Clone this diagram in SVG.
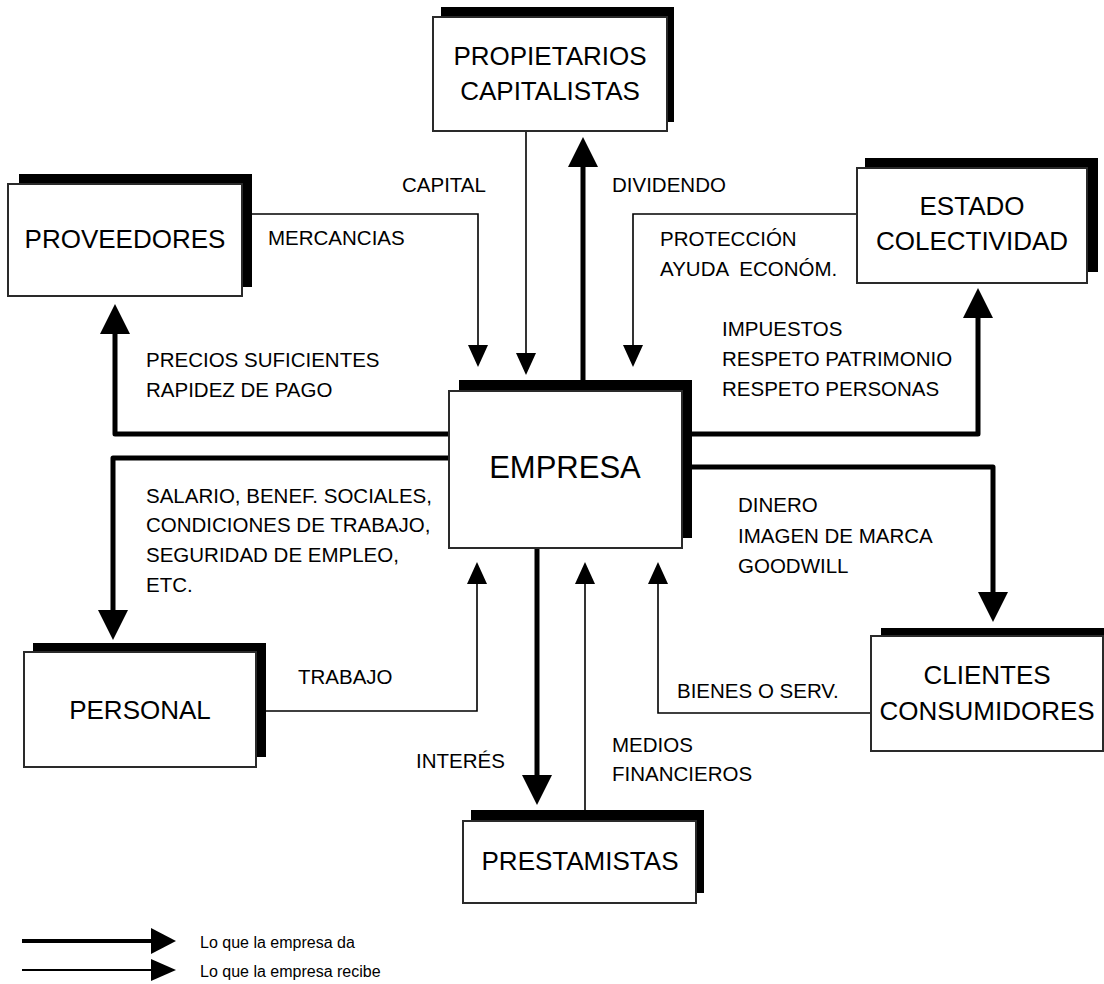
<svg xmlns="http://www.w3.org/2000/svg" width="1104" height="984" viewBox="0 0 1104 984">
  <style>
    .shadow { fill: #000; }
    .box { fill: #fff; stroke: #2a2a2a; stroke-width: 2; }
    .node-text { font-family: "Liberation Sans", Arial, sans-serif; font-size: 26px; fill: #000; text-anchor: middle; }
    .main-text { font-size: 31px; }
    .label { font-family: "Liberation Sans", Arial, sans-serif; font-size: 20.5px; fill: #000; }
    .legend { font-family: "Liberation Sans", Arial, sans-serif; font-size: 16px; fill: #000; }
    .give { fill: none; stroke: #000; stroke-width: 5; stroke-linejoin: round; marker-end: url(#head-give); }
    .get { fill: none; stroke: #000; stroke-width: 1.6; marker-end: url(#head-get); }
  </style>
  <defs>
    <marker id="head-give" markerUnits="userSpaceOnUse" viewBox="0 0 30 30" markerWidth="30" markerHeight="30" refX="0" refY="15" orient="auto">
      <path d="M0,0 L30,15 L0,30 Z" fill="#000"/>
    </marker>
    <marker id="head-get" markerUnits="userSpaceOnUse" viewBox="0 0 22 20" markerWidth="22" markerHeight="20" refX="0" refY="10" orient="auto">
      <path d="M0,0 L22,10 L0,20 Z" fill="#000"/>
    </marker>
  </defs>

  <rect width="1104" height="984" fill="#fff"/>

  <!-- connectors: thick = what the company gives, thin = what it receives -->
  <g id="connectors">
    <!-- Proveedores -->
    <path class="get" d="M252,214 H478 V345"/>
    <path class="give" d="M452,434 H115 V334"/>
    <!-- Propietarios -->
    <path class="get" d="M526,131 V353"/>
    <path class="give" d="M583,380 V167"/>
    <!-- Estado -->
    <path class="get" d="M857,214 H633 V345"/>
    <path class="give" d="M690,434 H978 V318"/>
    <!-- Personal -->
    <path class="give" d="M452,458 H113 V610"/>
    <path class="get" d="M266,711 H477 V584"/>
    <!-- Clientes -->
    <path class="give" d="M690,467 H993 V592"/>
    <path class="get" d="M871,713 H658 V584"/>
    <!-- Prestamistas -->
    <path class="give" d="M537,545 V775"/>
    <path class="get" d="M585,812 V584"/>
  </g>

  <g id="propietarios">
    <rect class="shadow" x="441" y="7" width="233" height="115"/>
    <rect class="box" x="433" y="17" width="234" height="114"/>
    <text class="node-text" x="550" y="65">PROPIETARIOS</text>
    <text class="node-text" x="550" y="100">CAPITALISTAS</text>
  </g>

  <g id="proveedores">
    <rect class="shadow" x="19" y="174" width="233" height="113"/>
    <rect class="box" x="8" y="184" width="234" height="112"/>
    <text class="node-text" x="125" y="248">PROVEEDORES</text>
  </g>

  <g id="estado">
    <rect class="shadow" x="865" y="158" width="233" height="114"/>
    <rect class="box" x="857" y="168" width="230" height="115"/>
    <text class="node-text" x="972" y="215">ESTADO</text>
    <text class="node-text" x="972" y="250">COLECTIVIDAD</text>
  </g>

  <g id="empresa">
    <rect class="shadow" x="459" y="380" width="233" height="158"/>
    <rect class="box" x="449" y="391" width="233" height="157"/>
    <text class="node-text main-text" x="565" y="478">EMPRESA</text>
  </g>

  <g id="personal">
    <rect class="shadow" x="33" y="643" width="233" height="114"/>
    <rect class="box" x="24" y="652" width="232" height="115"/>
    <text class="node-text" x="140" y="719">PERSONAL</text>
  </g>

  <g id="clientes">
    <rect class="shadow" x="881" y="628" width="230" height="113"/>
    <rect class="box" x="871" y="636" width="232" height="115"/>
    <text class="node-text" x="987" y="684">CLIENTES</text>
    <text class="node-text" x="987" y="720">CONSUMIDORES</text>
  </g>

  <g id="prestamistas">
    <rect class="shadow" x="471" y="810" width="233" height="83"/>
    <rect class="box" x="463" y="821" width="233" height="82"/>
    <text class="node-text" x="580" y="870">PRESTAMISTAS</text>
  </g>

  <!-- flow labels -->
  <g id="labels">
    <text class="label" x="402" y="192">CAPITAL</text>
    <text class="label" x="612" y="192">DIVIDENDO</text>
    <text class="label" x="268" y="245">MERCANCIAS</text>
    <text class="label" x="660" y="246">PROTECCIÓN</text>
    <text class="label" x="660" y="276" xml:space="preserve">AYUDA  ECONÓM.</text>
    <text class="label" x="146" y="367">PRECIOS SUFICIENTES</text>
    <text class="label" x="146" y="397">RAPIDEZ DE PAGO</text>
    <text class="label" x="722" y="336">IMPUESTOS</text>
    <text class="label" x="722" y="366">RESPETO PATRIMONIO</text>
    <text class="label" x="722" y="396">RESPETO PERSONAS</text>
    <text class="label" x="146" y="503">SALARIO, BENEF. SOCIALES,</text>
    <text class="label" x="146" y="532">CONDICIONES DE TRABAJO,</text>
    <text class="label" x="146" y="562">SEGURIDAD DE EMPLEO,</text>
    <text class="label" x="146" y="592">ETC.</text>
    <text class="label" x="738" y="512">DINERO</text>
    <text class="label" x="738" y="543">IMAGEN DE MARCA</text>
    <text class="label" x="738" y="573">GOODWILL</text>
    <text class="label" x="298" y="684">TRABAJO</text>
    <text class="label" x="677" y="698">BIENES O SERV.</text>
    <text class="label" x="416" y="768">INTERÉS</text>
    <text class="label" x="612" y="752">MEDIOS</text>
    <text class="label" x="612" y="781">FINANCIEROS</text>
  </g>

  <!-- legend -->
  <g id="legend">
    <line x1="22" y1="941" x2="152" y2="941" stroke="#000" stroke-width="4"/>
    <path d="M151,928 L176,941 L151,954 Z" fill="#000"/>
    <line x1="22" y1="970" x2="152" y2="970" stroke="#000" stroke-width="2"/>
    <path d="M151,959 L176,970 L151,981 Z" fill="#000"/>
    <text class="legend" x="200" y="948">Lo que la empresa da</text>
    <text class="legend" x="200" y="977">Lo que la empresa recibe</text>
  </g>
</svg>
